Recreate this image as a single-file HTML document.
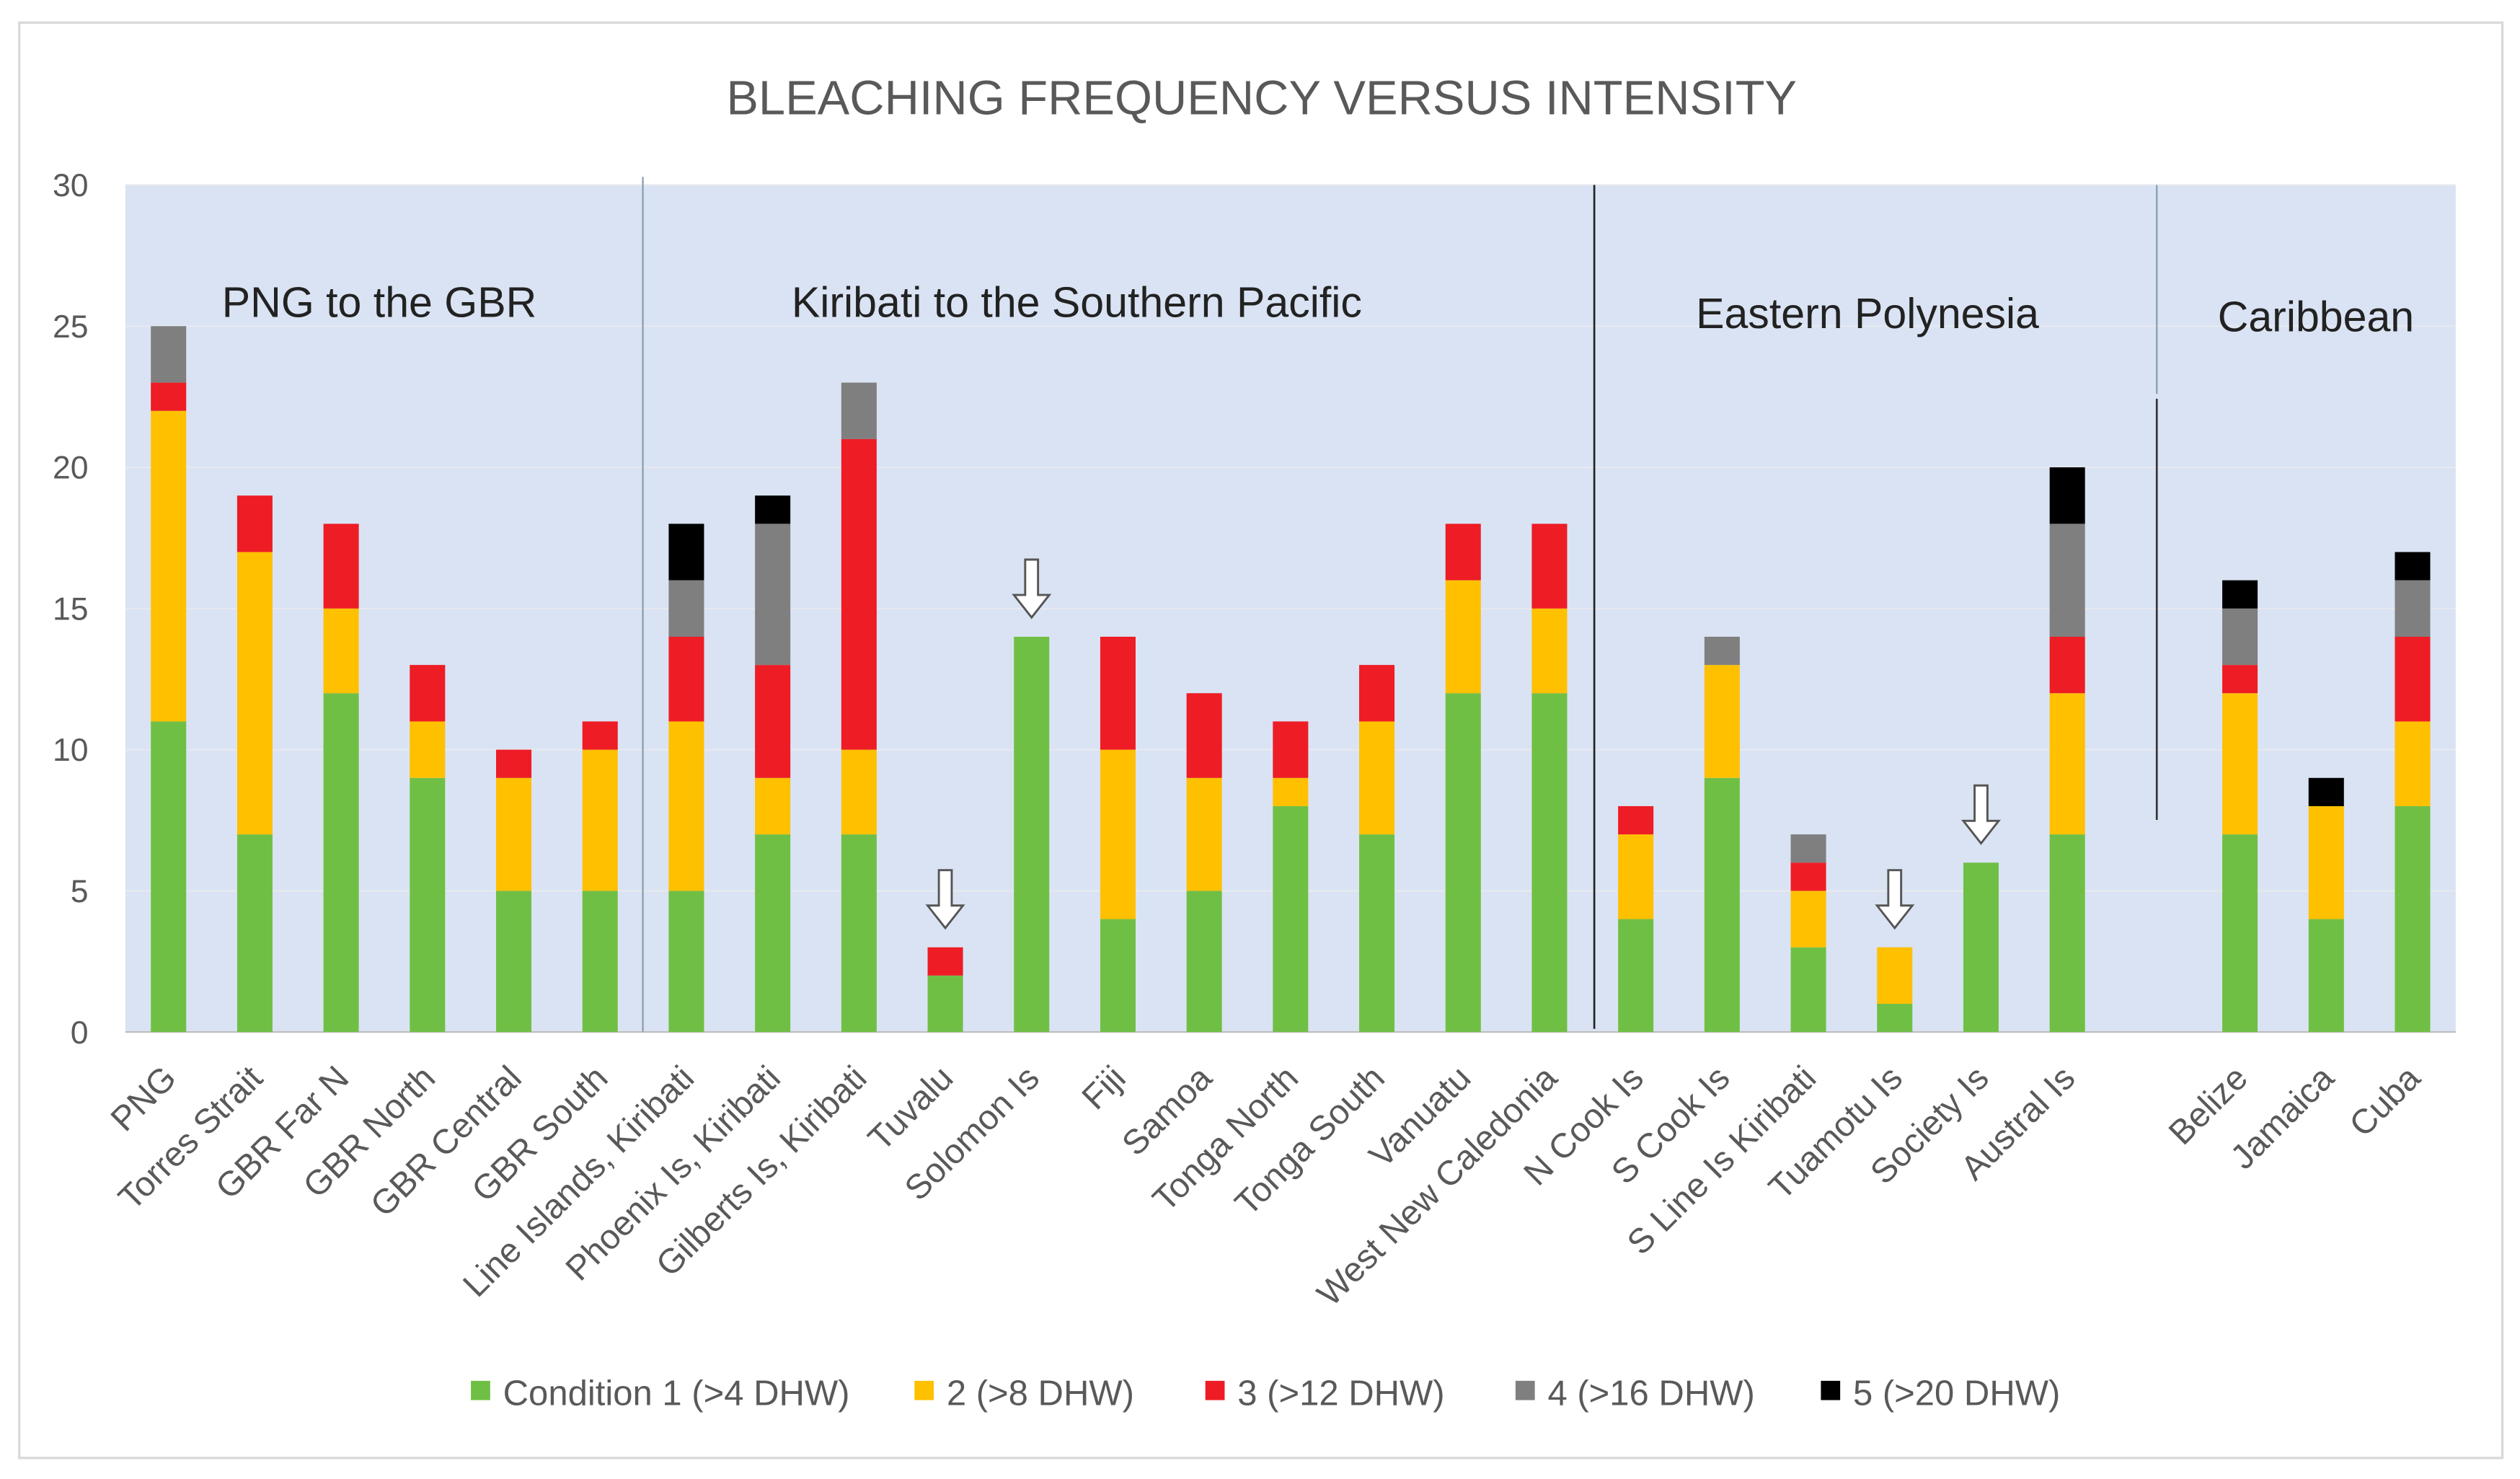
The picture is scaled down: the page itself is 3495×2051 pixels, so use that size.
<!DOCTYPE html>
<html><head><meta charset="utf-8"><style>
html,body{margin:0;padding:0;background:#fff;}
svg{display:block;font-family:"Liberation Sans",sans-serif;}
</style></head><body>
<svg id="chart" width="3495" height="2051" viewBox="0 0 1568 920" xmlns="http://www.w3.org/2000/svg">
<rect x="12" y="14" width="1545" height="893" fill="#fff" stroke="#d9d9d9" stroke-width="1.5"/>
<text x="785" y="71" text-anchor="middle" font-size="30" fill="#595959">BLEACHING FREQUENCY VERSUS INTENSITY</text>
<rect x="78" y="115" width="1450" height="527" fill="#dae3f3"/>
<g id="grid"></g>
<g id="bars"></g>
<g id="xlabels"></g>
<line x1="400" y1="110" x2="400" y2="642" stroke="#8a9bb0" stroke-width="1"/>
<line x1="992" y1="115" x2="992" y2="640" stroke="#222" stroke-width="1.2"/>
<line x1="1342" y1="115" x2="1342" y2="245" stroke="#8a9bb0" stroke-width="1"/>
<line x1="1342" y1="248" x2="1342" y2="510" stroke="#333" stroke-width="1.2"/>
<text x="236" y="197" text-anchor="middle" font-size="26.5" fill="#222">PNG to the GBR</text>
<text x="670" y="197" text-anchor="middle" font-size="26.5" fill="#222">Kiribati to the Southern Pacific</text>
<text x="1162" y="204" text-anchor="middle" font-size="26.5" fill="#222">Eastern Polynesia</text>
<text x="1441" y="206" text-anchor="middle" font-size="26.5" fill="#222">Caribbean</text>
<g id="arrows"></g>
<g id="legend"></g>
</svg>
<script>
const categories=["PNG","Torres Strait","GBR Far N","GBR North","GBR Central","GBR South","Line Islands, Kiribati","Phoenix Is, Kiribati","Gilberts Is, Kiribati","Tuvalu","Solomon Is","Fiji","Samoa","Tonga North","Tonga South","Vanuatu","West New Caledonia","N Cook Is","S Cook Is","S Line Is Kiribati","Tuamotu Is","Society Is","Austral Is","","Belize","Jamaica","Cuba"];
const cond1=[11,7,12,9,5,5,5,7,7,2,14,4,5,8,7,12,12,4,9,3,1,6,7,0,7,4,8];
const cond2=[11,10,3,2,4,5,6,2,3,0,0,6,4,1,4,4,3,3,4,2,2,0,5,0,5,4,3];
const cond3=[1,2,3,2,1,1,3,4,11,1,0,4,3,2,2,2,3,1,0,1,0,0,2,0,1,0,3];
const cond4=[2,0,0,0,0,0,2,5,2,0,0,0,0,0,0,0,0,0,1,1,0,0,4,0,2,0,2];
const cond5=[0,0,0,0,0,0,2,1,0,0,0,0,0,0,0,0,0,0,0,0,0,0,2,0,1,1,1];
const yTicks=[0,5,10,15,20,25,30];
const arrowCats=["Tuvalu","Solomon Is","Tuamotu Is","Society Is"];
const legendLabels=["Condition 1 (>4 DHW)","2 (>8 DHW)","3 (>12 DHW)","4 (>16 DHW)","5 (>20 DHW)"];
const colors=["#70bf45","#ffc000","#ee1c24","#7f7f7f","#000000"];
const NS="http://www.w3.org/2000/svg";
const X0=78,X1=1528,Y0=642,Y1=115,YMAX=30;
const slot=(X1-X0)/categories.length;
function xC(i){return X0+slot*(i+0.5);}
function yS(v){return Y0-(Y0-Y1)*v/YMAX;}
function mk(tag,attrs,parent){const e=document.createElementNS(NS,tag);for(const k in attrs)e.setAttribute(k,attrs[k]);parent.appendChild(e);return e;}
const grid=document.getElementById('grid');
yTicks.forEach(t=>{
  const l=mk('line',{x1:X0,x2:X1,y1:yS(t),y2:yS(t),stroke:t===0?'#bfbfbf':'#e6e9ef','stroke-width':1},grid);
  
  
  const tx=mk('text',{x:55,y:yS(t)+7,'text-anchor':'end','font-size':20,fill:'#595959'},grid);
  tx.textContent=t;
  
  
});
const series=[cond1,cond2,cond3,cond4,cond5];
const bars=document.getElementById('bars');
const bw=22;
categories.forEach((c,i)=>{
  let acc=0;
  series.forEach((s,k)=>{
    const v=s[i];if(!v)return;
    const r=mk('rect',{x:xC(i)-bw/2,y:yS(acc+v),width:bw,height:yS(acc)-yS(acc+v),fill:colors[k]},bars);
    
    
    acc+=v;
  });
  if(c){
    const tx=mk('text',{x:0,y:0,'text-anchor':'end','font-size':21.5,fill:'#595959',transform:`translate(${xC(i)+6},${672}) rotate(-45)`},document.getElementById('xlabels'));
    tx.textContent=c;
    
    
  }
});
const arrows=document.getElementById('arrows');
arrowCats.forEach(c=>{
  const i=categories.indexOf(c);
  let tot=0;series.forEach(s=>tot+=s[i]);
  const x=xC(i),yb=yS(tot)-12,yt=yb-36;
  const p=mk('path',{d:`M${x-4},${yt} L${x+4},${yt} L${x+4},${yb-14} L${x+11},${yb-14} L${x},${yb} L${x-11},${yb-14} L${x-4},${yb-14} Z`,fill:'#fff',stroke:'#555','stroke-width':1.3},arrows);
  
  
});
const legend=document.getElementById('legend');
const lx=[299,575,756,949,1139];
legendLabels.forEach((t,k)=>{
  const r=mk('rect',{x:lx[k]-6,y:859,width:12,height:12,fill:colors[k]},legend);
  
  
  const tx=mk('text',{x:lx[k]+14,y:874,'font-size':22,fill:'#595959'},legend);
  tx.textContent=t;
  
  
});
</script>
</body></html>
